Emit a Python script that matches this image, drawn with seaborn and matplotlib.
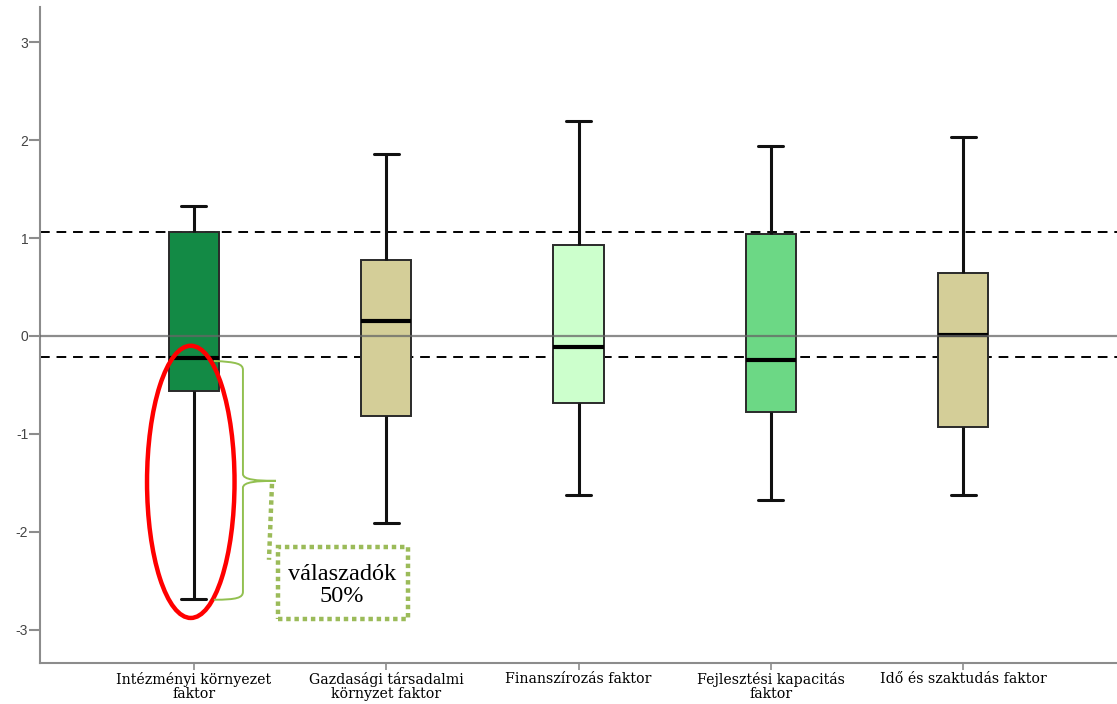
import numpy as np
import pandas as pd
import matplotlib
matplotlib.use("Agg")
import matplotlib.pyplot as plt
from matplotlib.patches import Ellipse, Rectangle, PathPatch
from matplotlib.path import Path
import seaborn as sns

# Factor scores: whisker ends, quartiles and medians per factor
categories = [
    "Intézményi környezet\nfaktor",
    "Gazdasági társadalmi\nkörnyzet faktor",
    "Finanszírozás faktor",
    "Fejlesztési kapacitás\nfaktor",
    "Idő és szaktudás faktor",
]
whisker_low = [-2.69, -1.91, -1.62, -1.68, -1.62]
q1 = [-0.56, -0.82, -0.68, -0.78, -0.93]
median = [-0.23, 0.15, -0.11, -0.25, 0.01]
q3 = [1.06, 0.78, 0.93, 1.04, 0.64]
whisker_high = [1.33, 1.86, 2.20, 1.94, 2.03]
box_colors = ["#138A45", "#D4CE98", "#CCFFCC", "#6CD885", "#D4CE98"]

# Reference lines
upper_ref = 1.06
lower_ref = -0.215

# Five-number summary per factor; with whiskers at min/max these reproduce the boxes exactly
rows = []
for cat, lo, a, m, b, hi in zip(categories, whisker_low, q1, median, q3, whisker_high):
    for v in (lo, a, m, b, hi):
        rows.append({"faktor": cat, "pontszam": v})
df = pd.DataFrame(rows)

sns.set_style("white")
fig = plt.figure(figsize=(11.17, 7.04), dpi=100)
ax = fig.add_axes([40 / 1117, 41 / 704, 1 - 40 / 1117, (663 - 7) / 704])

ax.axhline(upper_ref, color="black", linewidth=1.4, linestyle=(0, (5, 3.5)), zorder=1)
ax.axhline(lower_ref, color="black", linewidth=1.4, linestyle=(0, (5, 3.5)), zorder=1)

sns.boxplot(
    data=df, x="faktor", y="pontszam", hue="faktor", palette=box_colors,
    order=categories, hue_order=categories, legend=False,
    whis=(0, 100), width=0.26, linecolor="#222222", linewidth=1.2,
    saturation=1, ax=ax,
    whiskerprops={"color": "#111111", "linewidth": 2.2},
    capprops={"color": "#111111", "linewidth": 2.2},
    medianprops={"color": "black", "linewidth": 3.0},
    boxprops={"edgecolor": "#2a2a2a", "linewidth": 1.4},
    capwidths=0.13,
)
for art in ax.patches + ax.lines:
    art.set_zorder(max(art.get_zorder(), 2))

ax.axhline(0, color="#666666", linewidth=1.6, alpha=0.75, zorder=6)

ax.set_xlim(-0.8, 4.8)
ax.set_ylim(-3.34, 3.36)
ax.set_yticks([-3, -2, -1, 0, 1, 2, 3])
ax.set_yticklabels(["-3", "-2", "-1", "0", "1", "2", "3"], fontfamily="Liberation Sans")
ax.set_xticks(range(len(categories)))
ax.set_xticklabels(categories, fontfamily="DejaVu Serif", linespacing=0.98)
ax.set_xlabel("")
ax.set_ylabel("")

for side in ("top", "right"):
    ax.spines[side].set_visible(False)
for side in ("left", "bottom"):
    ax.spines[side].set_color("#8c8c8c")
    ax.spines[side].set_linewidth(1.5)

ax.tick_params(axis="y", length=8, width=1.5, color="#8c8c8c", labelsize=10,
               labelcolor="#444444", pad=0.5, left=True)
ax.tick_params(axis="x", length=5, width=1.2, color="#8c8c8c", labelsize=10.2,
               labelcolor="black", pad=1.5, bottom=True)

# Annotation: highlighted lower half of the first factor
ax.add_patch(Ellipse((-0.016, -1.49), 0.455, 2.78, fill=False,
                     edgecolor="#FF0000", linewidth=3.2, zorder=8))

def px(x):
    return (x - 193) / 192

def py(y):
    return (336 - y) / 98

brace_color = "#92C050"
verts = [
    (px(213), py(361)), (px(236), py(362)), (px(242), py(364)), (px(242), py(370)),
    (px(242), py(474)),
    (px(242), py(480)), (px(256), py(481)), (px(275), py(481)),
    (px(256), py(481)), (px(242), py(482)), (px(242), py(488)),
    (px(242), py(592)),
    (px(242), py(598)), (px(236), py(600)), (px(213), py(600)),
]
codes = [Path.MOVETO, Path.CURVE4, Path.CURVE4, Path.CURVE4,
         Path.LINETO,
         Path.CURVE4, Path.CURVE4, Path.CURVE4,
         Path.CURVE4, Path.CURVE4, Path.CURVE4,
         Path.LINETO,
         Path.CURVE4, Path.CURVE4, Path.CURVE4]
ax.add_patch(PathPatch(Path(verts, codes), fill=False, edgecolor=brace_color,
                       linewidth=1.4, zorder=8))

dot_color = "#9BBB59"
ax.plot([px(271), px(268)], [py(484), py(560)], color=dot_color, linewidth=3.2,
        linestyle=(0, (1, 0.85)), zorder=8, solid_capstyle="butt")
ax.add_patch(Rectangle((px(277), py(619)), px(407) - px(277), py(547) - py(619),
                       fill=False, edgecolor=dot_color, linewidth=3.2,
                       linestyle=(0, (1, 0.85)), zorder=8))
ax.text(px(341), py(586), "válaszadók\n50%", ha="center", va="center",
        fontsize=17.5, family="Liberation Serif", color="black",
        linespacing=1.05, zorder=9)

fig.savefig("out.png", dpi=100)
